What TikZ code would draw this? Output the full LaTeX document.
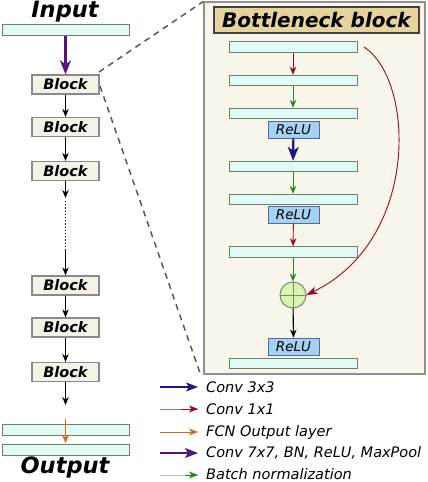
\documentclass[tikz,border=0pt]{standalone}
\usepackage{fontspec}
\setmainfont{DejaVu Sans}
\usetikzlibrary{arrows.meta}
\definecolor{barfill}{HTML}{E0FBF4}
\definecolor{barline}{HTML}{6E7F70}
\definecolor{blockfill}{HTML}{F5F3E8}
\definecolor{blockline}{HTML}{8A8A8A}
\definecolor{panelfill}{HTML}{F8F5EB}
\definecolor{panelline}{HTML}{909090}
\definecolor{titlefill}{HTML}{E6D49C}
\definecolor{titleline}{HTML}{404040}
\definecolor{relufill}{HTML}{A3D3F0}
\definecolor{reluline}{HTML}{5566AA}
\definecolor{circfill}{HTML}{D9F5B3}
\definecolor{circline}{HTML}{7A8A6A}
\definecolor{cnavy}{HTML}{1A1A80}
\definecolor{cred}{HTML}{9A0A28}
\definecolor{cgreen}{HTML}{228A22}
\definecolor{cpurple}{HTML}{5A1080}
\definecolor{corange}{HTML}{D06A20}
\tikzset{
  bar/.style={draw=barline, fill=barfill, line width=0.9pt, minimum height=10.5pt, inner sep=0pt},
  lbar/.style={bar, minimum width=127pt},
  pbar/.style={bar, minimum width=128pt},
  blockbox/.style={draw=blockline, fill=blockfill, line width=1.2pt, minimum width=67pt, minimum height=19pt, inner sep=0pt, font=\fontsize{14.5}{15}\selectfont\bfseries\itshape},
  relubox/.style={draw=reluline, fill=relufill, line width=0.8pt, minimum width=51pt, minimum height=17pt, inner sep=0pt, font=\fontsize{13.5}{14}\selectfont\itshape},
  thin/.style={line width=0.9pt, -{Stealth[length=8pt,width=6.5pt,inset=2.5pt]}},
  thick/.style={line width=2.2pt, -{Stealth[length=14pt,width=11pt,inset=4pt]}},
  blk/.style={thin, black},
  leg/.style={anchor=west, inner sep=0pt, font=\fontsize{14.5}{15}\selectfont\itshape},
  dashln/.style={draw=black!65, line width=1.5pt, dash pattern=on 6pt off 5pt},
}
\begin{document}
\begin{tikzpicture}[x=1pt,y=-1pt]
\useasboundingbox (0,0) rectangle (428,482);
% left column
\node[font=\fontsize{22.5}{24}\selectfont\bfseries\itshape, inner sep=0pt] (inp) at (65,11.5) {Input};
\node[lbar] (ibar) at (65.5,30) {};
\node[blockbox] (b1) at (65.5,84.5) {Block};
\node[blockbox] (b2) at (65.5,127) {Block};
\node[blockbox] (b3) at (65.5,171) {Block};
\node[blockbox] (b4) at (65.5,285.5) {Block};
\node[blockbox] (b5) at (65.5,327.5) {Block};
\node[blockbox] (b6) at (65.5,372) {Block};
\coordinate (c1) at (65.5,198);
\coordinate (c2) at (65.5,201);
\coordinate (c3) at (65.5,250);
\coordinate (c4) at (65.5,405);
\coordinate (c5) at (65.5,419);
\coordinate (c6) at (65.5,443);
\node[lbar] (obar1) at (65.5,430) {};
\node[lbar] (obar2) at (65.5,450) {};
\node[font=\fontsize{22.5}{24}\selectfont\bfseries\itshape, inner sep=0pt] (outp) at (65,467) {Output};
\draw[thick, cpurple] (ibar) -- (b1);
\draw[blk] (b1) -- (b2);
\draw[blk] (b2) -- (b3);
\draw[blk] (b3) -- (c1);
\draw[black, line width=1.2pt, dotted] (c2) -- (c3);
\draw[blk] (c3) -- (b4);
\draw[blk] (b4) -- (b5);
\draw[blk] (b5) -- (b6);
\draw[blk] (b6) -- (c4);
\draw[corange, line width=1.2pt, -{Stealth[length=8pt,width=7pt,inset=2.5pt]}] (c5) -- (c6);
% panel
\node[draw=panelline, fill=panelfill, line width=1.2pt, minimum width=221pt, minimum height=372pt, inner sep=0pt] (panel) at (314.5,188) {};
\node[draw=titleline, fill=titlefill, line width=1.2pt, minimum width=205pt, minimum height=26pt, inner sep=0pt, font=\fontsize{20}{21}\selectfont\bfseries\itshape] (title) at (316.5,20) {Bottleneck block};
\node[pbar] (p1) at (293,47) {};
\node[pbar] (p2) at (293,80.5) {};
\node[pbar] (p3) at (293,113.5) {};
\node[relubox] (r1) at (293.5,129.5) {ReLU};
\node[pbar] (p4) at (293,166.5) {};
\node[pbar] (p5) at (293,199.5) {};
\node[relubox] (r2) at (293.5,215) {ReLU};
\node[pbar] (p6) at (293,252) {};
\node[draw=circline, fill=circfill, line width=1pt, circle, minimum size=26pt, inner sep=0pt] (sum) at (293,295) {};
\draw[circline, line width=0.8pt] (sum.north) -- (sum.south) (sum.west) -- (sum.east);
\node[relubox] (r3) at (293.5,346.5) {ReLU};
\node[pbar] (p7) at (293,363.5) {};
\draw[thin, cred] (p1) -- (p2);
\draw[thin, cgreen] (p2) -- (p3);
\draw[thick, cnavy] (r1) -- (p4);
\draw[thin, cgreen] (p4) -- (p5);
\draw[thin, cred] (r2) -- (p6);
\draw[thin, cgreen] (p6) -- (sum);
\draw[blk, line width=1.1pt] (sum) -- (r3);
\coordinate (sk) at (364,47);
\draw[thin, cred, -{Stealth[length=11pt,width=8pt,inset=3pt]}] (sk) .. controls (415,80) and (420,240) .. (sum.east);
% dashed zoom lines
\coordinate (z1) at (99,72);
\coordinate (z2) at (100,86);
\coordinate (z3) at (200,373);
\draw[dashln] (z1) -- (panel.north west);
\draw[dashln] (z2) -- (z3);
% legend
\foreach \y/\n in {387/1,409/2,432/3,453/4,475/5} {
  \coordinate (la\n) at (160,\y);
  \coordinate (lb\n) at (198,\y);
}
\draw[cnavy, line width=1.6pt, -{Stealth[length=12pt,width=9pt,inset=3pt]}] (la1) -- (lb1);
\draw[cred!60, line width=0.9pt] (la2) -- (lb2);
\draw[cred, line width=0.9pt, -{Stealth[length=9pt,width=7pt,inset=2.5pt]}] (181,409) -- (lb2);
\draw[corange, line width=1pt, -{Stealth[length=9pt,width=7pt,inset=2.5pt]}] (la3) -- (lb3);
\draw[cpurple, line width=2pt, -{Stealth[length=13pt,width=10pt,inset=3pt]}] (la4) -- (lb4);
\draw[black!25, line width=0.9pt] (la5) -- (lb5);
\draw[cgreen, line width=0.9pt, -{Stealth[length=9pt,width=7pt,inset=2.5pt]}] (185,475) -- (lb5);
\node[leg] (t1) at (206,387) {Conv 3x3};
\node[leg] (t2) at (206,409) {Conv 1x1};
\node[leg] (t3) at (206,432) {FCN Output layer};
\node[leg] (t4) at (206,453) {Conv 7x7, BN, ReLU, MaxPool};
\node[leg] (t5) at (206,474.5) {Batch normalization};
\end{tikzpicture}
\end{document}
